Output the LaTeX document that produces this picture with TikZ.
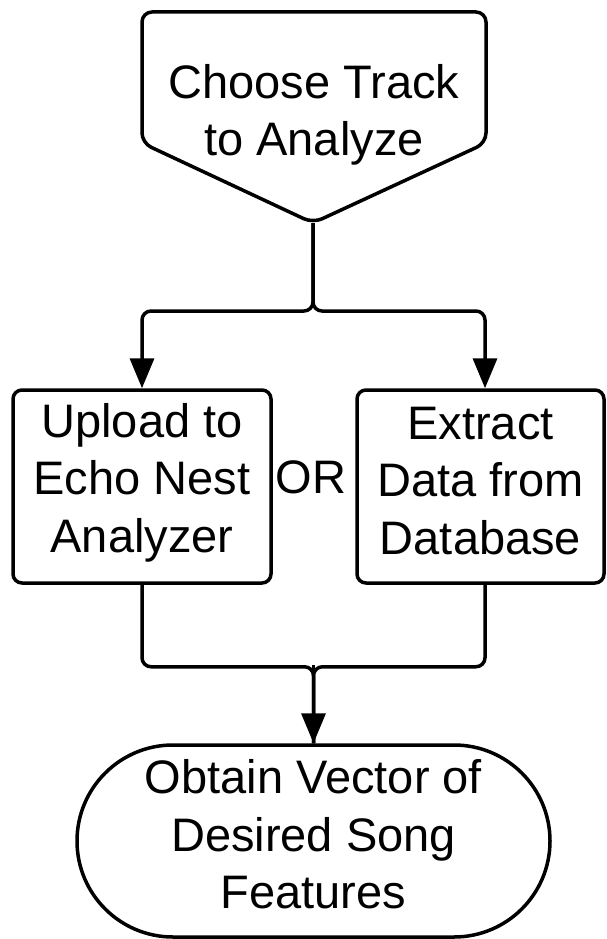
\documentclass[tikz,border=0pt]{standalone}
\usepackage{fontspec}
\setmainfont{Liberation Sans}
\usetikzlibrary{arrows.meta,shapes.misc}
\newcommand{\lowpad}[1]{\rule[-#1]{0pt}{#1}}
\tikzset{
  lbl/.style={font=\fontsize{47}{57.5}\selectfont, align=center, inner sep=0pt},
  outline/.style={draw=black, line width=3.5pt, line join=round},
  procbox/.style={lbl, outline, rounded corners=9pt, minimum width=258pt, minimum height=193pt},
  termbox/.style={lbl, outline, rounded rectangle, minimum width=473pt, minimum height=192pt},
  conn/.style={draw=black, line width=3.5pt, rounded corners=9pt, -{Triangle[length=30pt,width=24pt]}},
  plain/.style={draw=black, line width=3.5pt, rounded corners=9pt}
}
\begin{document}
\begin{tikzpicture}[x=1pt,y=-1pt]
\useasboundingbox (0,0) rectangle (606,939);
% top (off-page style) shape
\draw[outline, rounded corners=10pt] (142,12) -- (486,12) -- (486,143) -- (313,223) -- (142,143) -- cycle;
\coordinate (tip) at (313,223);
\node[lbl] (choose) at (314,115) {Choose Track\\to Analyze};
% process boxes
\node[procbox] (upload) at (142,486.5) {Upload to\\Echo Nest\\Analyzer\lowpad{18pt}};
\node[procbox, minimum width=247pt] (extract) at (480.5,486.5) {Extract\\Data from\\Database\lowpad{12pt}};
\node[lbl] (or) at (311,477) {OR};
% terminal
\node[termbox] (obtain) at (313.5,841) {Obtain Vector of\\Desired Song\\Features\lowpad{14pt}};
% connectors
\draw[conn] (tip) -- ++(0,88) -| (upload.north);
\draw[conn] (tip) -- ++(0,88) -| ([xshift=4.5pt]extract.north);
\draw[plain] (upload.south) -- ++(0,82) -| (obtain.north);
\draw[plain] ([xshift=4.5pt]extract.south) -- ++(0,82) -| (obtain.north);
\draw[conn] (obtain.north |- 0,665) -- (obtain.north);
\end{tikzpicture}
\end{document}
